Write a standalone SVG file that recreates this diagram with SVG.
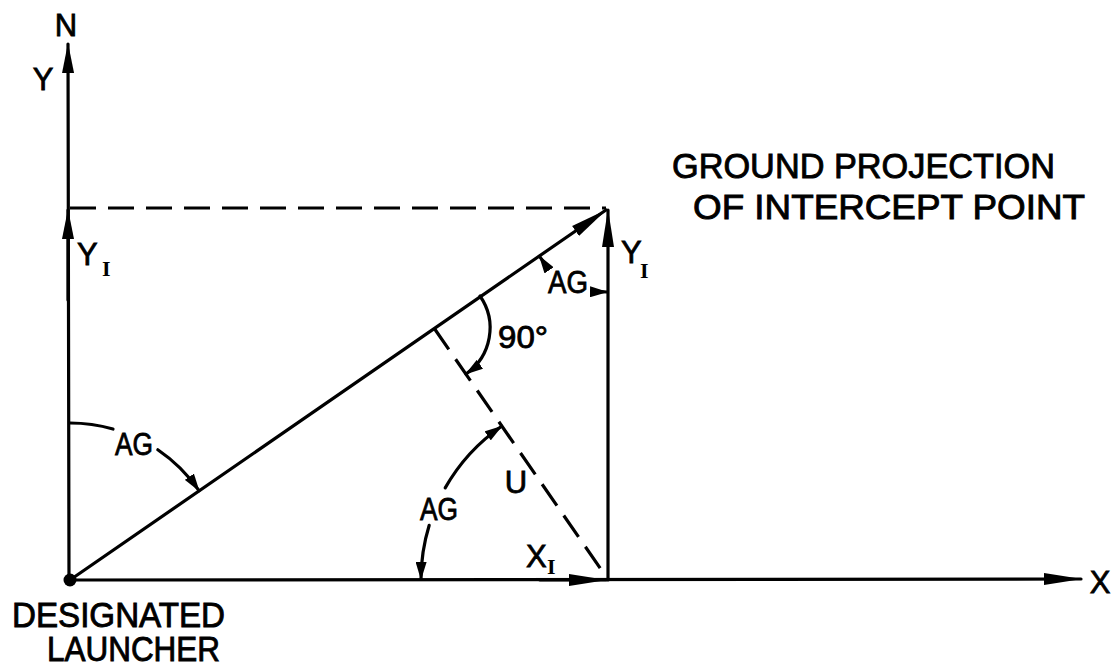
<svg xmlns="http://www.w3.org/2000/svg" width="1116" height="666" viewBox="0 0 1116 666">
<style>
.ln{fill:none;stroke:#000;stroke-width:3.2;stroke-linecap:round}
.dash{fill:none;stroke:#000;stroke-width:3.2;stroke-dasharray:26 12}
.t{font-family:"Liberation Sans",Arial,sans-serif;font-size:35px;fill:#000;stroke:#000;stroke-width:0.9}
.m{font-family:"Liberation Sans",Arial,sans-serif;font-size:31px;fill:#000;stroke:#000;stroke-width:0.8}
.s{font-family:"Liberation Serif","Times New Roman",serif;font-size:22px;font-weight:bold;fill:#000}
</style>
<defs>
<marker id="ah" viewBox="0 0 38 14" refX="37" refY="7" markerWidth="38" markerHeight="14" markerUnits="userSpaceOnUse" orient="auto"><path d="M0,1 L38,7 L0,13 Z" fill="#000"/></marker>
<marker id="am" viewBox="0 0 30 12" refX="29" refY="6" markerWidth="30" markerHeight="12" markerUnits="userSpaceOnUse" orient="auto"><path d="M0,0 L30,6 L0,12 Z" fill="#000"/></marker>
<marker id="as" viewBox="0 0 18 11" refX="17" refY="5.5" markerWidth="18" markerHeight="11" markerUnits="userSpaceOnUse" orient="auto"><path d="M0,0 L18,5.5 L0,11 Z" fill="#000"/></marker>
</defs>
<g id="connectors">
<path class="ln" d="M69,580 L68,44" marker-end="url(#am)"/>
<path class="ln" d="M70,580 L1081,579" marker-end="url(#ah)"/>
<path class="ln" d="M70,580 L606,210" marker-end="url(#ah)"/>
<path class="ln" d="M68,300 L68,210" marker-end="url(#am)"/>
<path class="ln" d="M608,580 L608,210" marker-end="url(#ah)"/>
<path class="ln" d="M540,580 L606,580" marker-end="url(#ah)"/>
<path class="dash" d="M70,208 L606,208"/>
<path class="dash" d="M434,328 L607,578"/>
<path class="ln" d="M480,296 A56,56 0 0 1 466,374" marker-end="url(#as)"/>
<path class="ln" d="M70,423 A157,157 0 0 1 113,429"/>
<path class="ln" d="M157.8,449.8 A157,157 0 0 1 199,490.7" marker-end="url(#as)"/>
<path class="ln" d="M429.2,525.3 A187,187 0 0 0 421,579" marker-end="url(#as)"/>
<path class="ln" d="M445.2,487.9 A187,187 0 0 1 501.6,426.2" marker-end="url(#as)"/>
<path class="ln" d="M593.4,290.7 A84,84 0 0 0 607,292" marker-end="url(#as)"/>
<path class="ln" d="M546.6,265.3 A84,84 0 0 1 539.5,256.3" marker-end="url(#as)"/>
</g>
<g id="origin"><circle cx="70" cy="580" r="6.5" fill="#000"/></g>
<g id="labels">
<text class="m" x="66" y="36" text-anchor="middle">N</text>
<text class="m" x="43" y="90" text-anchor="middle">Y</text>
<g id="yi-left"><text class="m" x="77" y="265">Y</text><text class="s" x="102" y="276">I</text></g>
<g id="yi-right"><text class="m" x="621" y="263">Y</text><text class="s" x="640" y="278">I</text></g>
<g id="xi"><text class="m" x="526" y="567">X</text><text class="s" x="547" y="574">I</text></g>
<text class="m" x="516" y="493" text-anchor="middle">U</text>
<text class="m" x="498" y="348" textLength="50" lengthAdjust="spacingAndGlyphs">90°</text>
<text class="m" x="115" y="455" textLength="38" lengthAdjust="spacingAndGlyphs">AG</text>
<text class="m" x="548" y="293" textLength="40" lengthAdjust="spacingAndGlyphs">AG</text>
<text class="m" x="420" y="520" textLength="38" lengthAdjust="spacingAndGlyphs">AG</text>
<text class="m" x="1100" y="593" text-anchor="middle">X</text>
</g>
<g id="intercept">
<text class="t" x="672" y="178" textLength="383" lengthAdjust="spacingAndGlyphs">GROUND PROJECTION</text>
<text class="t" x="693" y="219" textLength="392" lengthAdjust="spacingAndGlyphs">OF INTERCEPT POINT</text>
</g>
<g id="launcher">
<text class="t" x="12" y="627" font-size="34" textLength="213" lengthAdjust="spacingAndGlyphs">DESIGNATED</text>
<text class="t" x="47" y="661" font-size="34" textLength="173" lengthAdjust="spacingAndGlyphs">LAUNCHER</text>
</g>
</svg>
